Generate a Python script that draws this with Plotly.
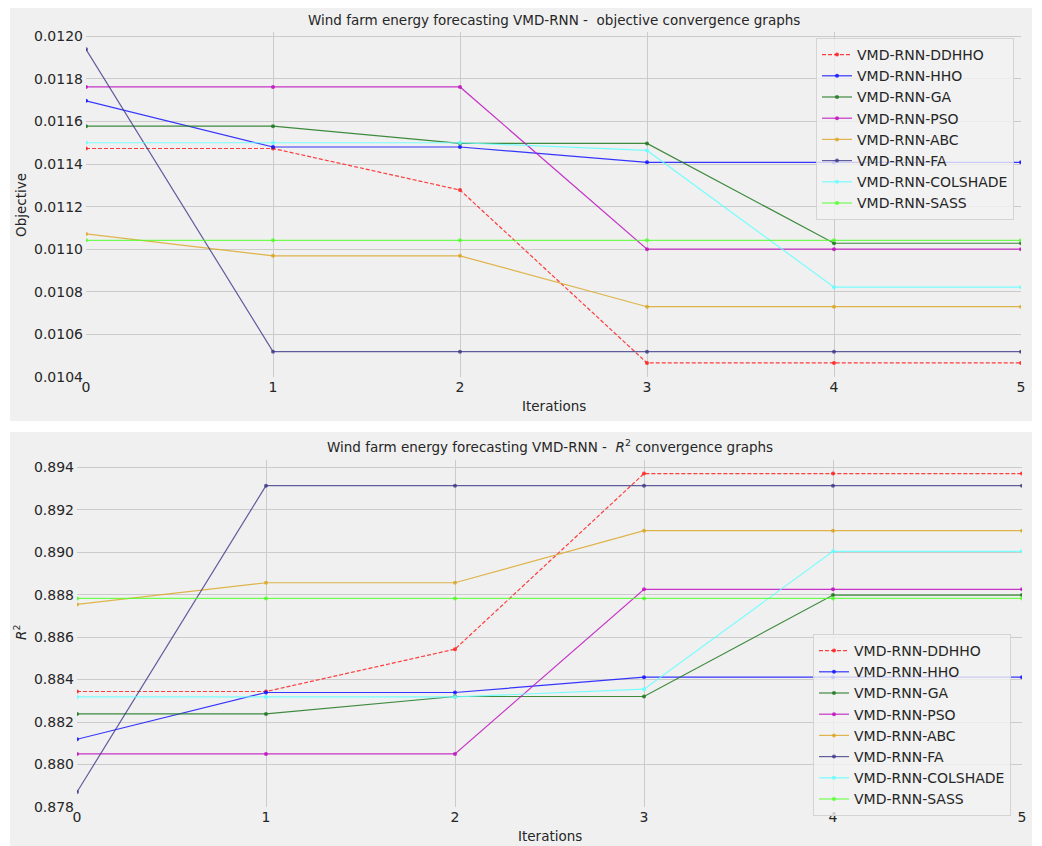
import plotly.graph_objects as go

# page body has an 8px margin; figure is sized/positioned so that page pixels match the reference
OFF = 8
W, H = 1042 - OFF, 846 - OFF

iterations = [0, 1, 2, 3, 4, 5]
names = ["VMD-RNN-DDHHO", "VMD-RNN-HHO", "VMD-RNN-GA", "VMD-RNN-PSO",
         "VMD-RNN-ABC", "VMD-RNN-FA", "VMD-RNN-COLSHADE", "VMD-RNN-SASS"]

obj_ddhho = [0.011473, 0.011473, 0.011278, 0.010466, 0.010466, 0.010466]
obj_hho = [0.011697, 0.011480, 0.011480, 0.011408, 0.011408, 0.011408]
obj_ga = [0.011578, 0.011578, 0.011497, 0.011497, 0.011028, 0.011028]
obj_pso = [0.011762, 0.011762, 0.011762, 0.011000, 0.011000, 0.011000]
obj_abc = [0.011072, 0.010969, 0.010969, 0.010730, 0.010730, 0.010730]
obj_fa = [0.011939, 0.010519, 0.010519, 0.010519, 0.010519, 0.010519]
obj_colshade = [0.011500, 0.011500, 0.011500, 0.011464, 0.010822, 0.010822]
obj_sass = [0.011042, 0.011042, 0.011042, 0.011042, 0.011042, 0.011042]

r2_ddhho = [0.883438, 0.883438, 0.885433, 0.893700, 0.893700, 0.893700]
r2_hho = [0.881190, 0.883391, 0.883391, 0.884113, 0.884113, 0.884113]
r2_ga = [0.882382, 0.882382, 0.883203, 0.883203, 0.887979, 0.887979]
r2_pso = [0.880497, 0.880497, 0.880497, 0.888248, 0.888248, 0.888248]
r2_abc = [0.887540, 0.888559, 0.888559, 0.891011, 0.891011, 0.891011]
r2_fa = [0.878705, 0.893132, 0.893132, 0.893132, 0.893132, 0.893132]
r2_colshade = [0.883184, 0.883184, 0.883184, 0.883547, 0.890039, 0.890039]
r2_sass = [0.887823, 0.887823, 0.887823, 0.887823, 0.887823, 0.887823]

obj_series = [obj_ddhho, obj_hho, obj_ga, obj_pso, obj_abc, obj_fa, obj_colshade, obj_sass]
r2_series = [r2_ddhho, r2_hho, r2_ga, r2_pso, r2_abc, r2_fa, r2_colshade, r2_sass]

obj_ticks = [0.0104, 0.0106, 0.0108, 0.0110, 0.0112, 0.0114, 0.0116, 0.0118, 0.0120]
r2_ticks = [0.878, 0.880, 0.882, 0.884, 0.886, 0.888, 0.890, 0.892, 0.894]

colors = ["rgba(255,30,30,0.85)", "rgba(20,20,255,0.85)", "rgba(30,120,30,0.85)",
          "rgba(190,20,190,0.85)", "rgba(218,165,32,0.8)", "rgba(60,55,135,0.8)",
          "rgba(100,255,255,0.85)", "rgba(80,255,40,0.8)"]
dashes = ["4px,2px"] + ["solid"] * 7

FONT = "DejaVu Sans"
TXT = "#262626"

def px(x):
    return max(0.0, min(1.0, (x - OFF) / W))

def py(y):
    return max(0.0, min(1.0, 1 - (y - OFF) / H))

fig = go.Figure()

for i, (nm, ys) in enumerate(zip(names, obj_series)):
    fig.add_trace(go.Scatter(
        x=iterations, y=ys, name=nm, mode="lines+markers",
        line=dict(color=colors[i], width=1.2, dash=dashes[i]),
        marker=dict(color=colors[i], size=4),
        xaxis="x", yaxis="y", legend="legend"))

for i, (nm, ys) in enumerate(zip(names, r2_series)):
    fig.add_trace(go.Scatter(
        x=iterations, y=ys, name=nm, mode="lines+markers",
        line=dict(color=colors[i], width=1.2, dash=dashes[i]),
        marker=dict(color=colors[i], size=4),
        xaxis="x2", yaxis="y2", legend="legend2"))

axis_common = dict(showgrid=True, gridcolor="#cbcbcb", gridwidth=1, zeroline=False,
                   showline=False, ticks="", automargin=False,
                   tickfont=dict(family=FONT, size=14, color=TXT))

fig.update_layout(
    width=W, height=H, autosize=False,
    margin=dict(l=0, r=0, t=0, b=0),
    paper_bgcolor="white", plot_bgcolor="#f0f0f0",
    font=dict(family=FONT, color=TXT),
    showlegend=True,
    xaxis=dict(domain=[px(86), px(1021)], range=[0, 5], tickvals=iterations,
               anchor="y", **axis_common),
    yaxis=dict(domain=[py(377), py(32)], range=[0.0104, 0.01202], tickvals=obj_ticks,
               tickformat=".4f", anchor="x", ticklabelstandoff=2, **axis_common),
    xaxis2=dict(domain=[px(77), px(1022)], range=[0, 5], tickvals=iterations,
                anchor="y2", **axis_common),
    yaxis2=dict(domain=[py(807), py(460)], range=[0.878, 0.89434], tickvals=r2_ticks,
                tickformat=".3f", anchor="x2", ticklabelstandoff=2, **axis_common),
    legend=dict(x=px(816), y=py(38), xanchor="left", yanchor="top",
                bgcolor="rgba(242,242,242,0.8)", bordercolor="#d4d4d4", borderwidth=1,
                font=dict(family=FONT, size=14, color=TXT), itemwidth=30),
    legend2=dict(x=px(813), y=py(634), xanchor="left", yanchor="top",
                 bgcolor="rgba(242,242,242,0.8)", bordercolor="#d4d4d4", borderwidth=1,
                 font=dict(family=FONT, size=14, color=TXT), itemwidth=30),
    shapes=[
        dict(type="rect", xref="paper", yref="paper", x0=px(10), x1=px(1032),
             y0=py(421), y1=py(7), fillcolor="#f0f0f0", line=dict(width=0), layer="below"),
        dict(type="rect", xref="paper", yref="paper", x0=px(10), x1=px(1032),
             y0=py(846), y1=py(432), fillcolor="#f0f0f0", line=dict(width=0), layer="below"),
    ],
    annotations=[
        dict(text="Wind farm energy forecasting VMD-RNN -  objective convergence graphs",
             x=px(553.5), y=py(20), xref="paper", yref="paper", showarrow=False,
             xanchor="center", yanchor="middle", font=dict(family=FONT, size=13.5, color=TXT)),
        dict(text="Wind farm energy forecasting VMD-RNN -  <i>R</i><sup>2</sup> convergence graphs",
             x=px(549.5), y=py(446), xref="paper", yref="paper", showarrow=False,
             xanchor="center", yanchor="middle", font=dict(family=FONT, size=13.5, color=TXT)),
        dict(text="Iterations", x=px(553.5), y=py(406), xref="paper", yref="paper",
             showarrow=False, xanchor="center", yanchor="middle",
             font=dict(family=FONT, size=13.5, color=TXT)),
        dict(text="Iterations", x=px(549.5), y=py(836), xref="paper", yref="paper",
             showarrow=False, xanchor="center", yanchor="middle",
             font=dict(family=FONT, size=13.5, color=TXT)),
        dict(text="Objective", x=px(21), y=py(205), xref="paper", yref="paper",
             showarrow=False, xanchor="center", yanchor="middle", textangle=-90,
             font=dict(family=FONT, size=13.5, color=TXT)),
        dict(text="<i>R</i><sup>2</sup>", x=px(20), y=py(633), xref="paper", yref="paper",
             showarrow=False, xanchor="center", yanchor="middle", textangle=-90,
             font=dict(family=FONT, size=13.5, color=TXT)),
    ],
)

fig.write_html("out.html")
